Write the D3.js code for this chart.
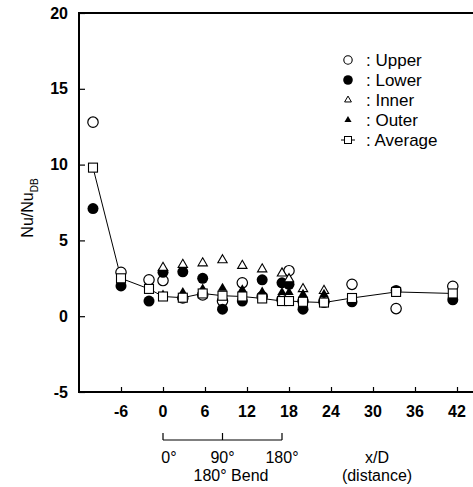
<!DOCTYPE html>
<html>
<head>
<meta charset="utf-8">
<script src="https://cdn.jsdelivr.net/npm/d3@7"></script>
<style>
  body { margin: 0; background: #fff; }
  svg text { font-family: Arial, "Liberation Sans", sans-serif; fill: #000; }
</style>
</head>
<body>
<svg id="chart" width="473" height="487"></svg>
<script>
// x/D stations and Nu/Nu_DB readings
const xD      = [-10, -6, -2, 0, 2.83, 5.67, 8.5, 11.33, 14.17, 17, 18, 20, 23, 27, 33.3, 41.4];
const upper   = [12.8, 2.9, 2.4, 2.35, 1.2, 1.4, 1.0, 2.2, 1.3, 1.1, 3.0, 1.0, 1.0, 2.1, 0.5, 1.97];
const lower   = [7.1, 2.0, 1.0, 2.9, 2.93, 2.5, 0.46, 1.0, 2.4, 2.2, 2.1, 0.46, 0.9, 0.95, 1.7, 1.08];
const inner   = [null, null, null, 3.2, 3.4, 3.5, 3.7, 3.33, 3.1, 2.83, 2.45, 1.8, 1.68, null, null, null];
const outer   = [null, null, null, 1.4, 1.57, 1.8, 1.85, 1.75, 1.6, 1.57, 1.57, 1.45, 1.45, null, null, null];
const average = [9.8, 2.5, 1.8, 1.3, 1.22, 1.5, 1.35, 1.3, 1.17, 1.0, 1.0, 0.95, 0.9, 1.2, 1.6, 1.5];

const xTicks = [-6, 0, 6, 12, 18, 24, 30, 36, 42];
const yTicks = [-5, 0, 5, 10, 15, 20];
const bendTicks = [{x: 0, label: "0°"}, {x: 8.5, label: "90°"}, {x: 17, label: "180°"}];
const legendNames = ["Upper", "Lower", "Inner", "Outer", "Average"];

{
const svg = d3.select("#chart");
const plotLeft = 79, plotTop = 13, plotBottom = 392;

const x = d3.scaleLinear().domain([-12, 45]).range([plotLeft, 478]);
const y = d3.scaleLinear().domain([-5, 20]).range([plotBottom, plotTop]);

// frame: left, top, bottom (right side runs off the picture)
const frame = svg.append("g").attr("stroke", "#000").attr("stroke-width", 2).attr("fill", "none");
frame.append("line").attr("x1", plotLeft).attr("x2", plotLeft).attr("y1", plotTop - 1).attr("y2", plotBottom + 1);
frame.append("line").attr("x1", plotLeft).attr("x2", 473).attr("y1", plotTop).attr("y2", plotTop);
frame.append("line").attr("x1", plotLeft).attr("x2", 473).attr("y1", plotBottom).attr("y2", plotBottom);

// y axis (ticks inward)
const yAxis = svg.append("g")
    .attr("transform", `translate(${plotLeft},0)`)
    .call(d3.axisRight(y).tickValues(yTicks).tickSize(6).tickFormat(""));
yAxis.select(".domain").remove();
yAxis.selectAll("line").attr("stroke-width", 1.2);
svg.append("g").selectAll("text")
    .data(yTicks).enter().append("text")
    .attr("x", 68).attr("y", d => y(d) + 5.5)
    .attr("text-anchor", "end")
    .attr("font-size", 16).attr("font-weight", "bold")
    .text(d => d);

// x axis (ticks inward)
const xAxis = svg.append("g")
    .attr("transform", `translate(0,${plotBottom})`)
    .call(d3.axisTop(x).tickValues(xTicks).tickSize(5).tickFormat(""));
xAxis.select(".domain").remove();
xAxis.selectAll("line").attr("stroke-width", 1.2);
svg.append("g").selectAll("text")
    .data(xTicks).enter().append("text")
    .attr("x", d => x(d)).attr("y", 417)
    .attr("text-anchor", "middle")
    .attr("font-size", 16).attr("font-weight", "bold")
    .text(d => d);

// bend bracket below the axis
const bend = svg.append("g").attr("stroke", "#000").attr("stroke-width", 1.2);
bend.append("line").attr("x1", x(0)).attr("x2", x(17)).attr("y1", 440).attr("y2", 440);
bend.selectAll("line.tk").data(bendTicks).enter().append("line").attr("class", "tk")
    .attr("x1", d => x(d.x)).attr("x2", d => x(d.x)).attr("y1", 433).attr("y2", 440);
svg.append("g").selectAll("text")
    .data(bendTicks).enter().append("text")
    .attr("x", d => x(d.x) + (d.x === 0 ? 6 : 0)).attr("y", 463)
    .attr("text-anchor", "middle").attr("font-size", 16)
    .text(d => d.label);
svg.append("text").attr("x", 231).attr("y", 481).attr("text-anchor", "middle")
    .attr("font-size", 16).text("180° Bend");
svg.append("text").attr("x", 377).attr("y", 463).attr("text-anchor", "middle")
    .attr("font-size", 16).text("x/D");
svg.append("text").attr("x", 377).attr("y", 481).attr("text-anchor", "middle")
    .attr("font-size", 16).text("(distance)");

// y label
const yl = svg.append("text")
    .attr("transform", "translate(33,208) rotate(-90)")
    .attr("text-anchor", "middle").attr("font-size", 16);
yl.append("tspan").text("Nu/Nu");
yl.append("tspan").attr("dy", 5).attr("font-size", 10).text("DB");

// average line
const pts = xD.map((d, i) => ({x: d, v: average[i]}));
svg.append("path")
    .datum(pts)
    .attr("fill", "none").attr("stroke", "#000").attr("stroke-width", 1)
    .attr("d", d3.line().x(d => x(d.x)).y(d => y(d.v)));

const tri = d3.symbol().type(d3.symbolTriangle);

function series(vals) {
  return xD.map((d, i) => ({x: d, v: vals[i]})).filter(d => d.v !== null);
}

const marks = svg.append("g");
marks.selectAll("circle.up").data(series(upper)).enter().append("circle")
    .attr("cx", d => x(d.x)).attr("cy", d => y(d.v)).attr("r", 5.2)
    .attr("fill", "#fff").attr("stroke", "#000").attr("stroke-width", 1.2);
marks.selectAll("circle.lo").data(series(lower)).enter().append("circle")
    .attr("cx", d => x(d.x)).attr("cy", d => y(d.v)).attr("r", 5.5)
    .attr("fill", "#000");
marks.selectAll("path.in").data(series(inner)).enter().append("path")
    .attr("transform", d => `translate(${x(d.x)},${y(d.v)})`)
    .attr("d", tri.size(38)())
    .attr("fill", "#fff").attr("stroke", "#000").attr("stroke-width", 1.1);
marks.selectAll("path.out").data(series(outer)).enter().append("path")
    .attr("transform", d => `translate(${x(d.x)},${y(d.v)})`)
    .attr("d", tri.size(38)())
    .attr("fill", "#000");
marks.selectAll("rect.avg").data(series(average)).enter().append("rect")
    .attr("x", d => x(d.x) - 4.5).attr("y", d => y(d.v) - 4.5)
    .attr("width", 9).attr("height", 9)
    .attr("fill", "#fff").attr("stroke", "#000").attr("stroke-width", 1.1);

// legend
const leg = svg.append("g");
const rowY = i => 60 + i * 20;
legendNames.forEach((name, i) => {
  const cy = rowY(i), cx = 348;
  if (name === "Upper") {
    leg.append("circle").attr("cx", cx).attr("cy", cy).attr("r", 4.2)
        .attr("fill", "#fff").attr("stroke", "#000").attr("stroke-width", 1.1);
  } else if (name === "Lower") {
    leg.append("circle").attr("cx", cx).attr("cy", cy).attr("r", 4.8).attr("fill", "#000");
  } else if (name === "Inner") {
    leg.append("path").attr("transform", `translate(${cx},${cy})`).attr("d", tri.size(20)())
        .attr("fill", "#fff").attr("stroke", "#000").attr("stroke-width", 1);
  } else if (name === "Outer") {
    leg.append("path").attr("transform", `translate(${cx},${cy})`).attr("d", tri.size(22)())
        .attr("fill", "#000");
  } else {
    leg.append("line").attr("x1", cx - 7).attr("x2", cx + 7).attr("y1", cy).attr("y2", cy)
        .attr("stroke", "#000").attr("stroke-width", 1);
    leg.append("rect").attr("x", cx - 3.5).attr("y", cy - 3.5).attr("width", 7).attr("height", 7)
        .attr("fill", "#fff").attr("stroke", "#000").attr("stroke-width", 1);
  }
  leg.append("text").attr("x", 366).attr("y", cy + 6)
      .attr("font-size", 17).text(": " + name);
});
}
</script>
</body>
</html>
